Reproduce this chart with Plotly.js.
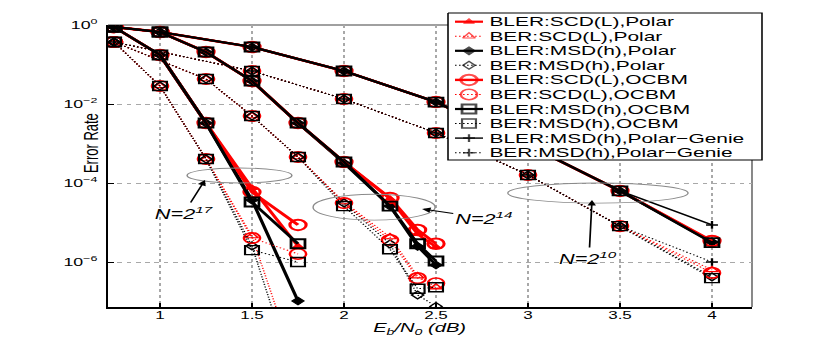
<!DOCTYPE html>
<html>
<head>
<meta charset="utf-8">
<script src="https://cdn.plot.ly/plotly-3.0.1.min.js"></script>
<style>
  html, body { margin: 0; padding: 0; background: #fff; overflow: hidden; }
  /* the source figure is a MATLAB export stretched sideways; reproduce that */
  #chart { width: 536px; height: 346px; transform: scaleX(1.5485); transform-origin: 0 0; }
</style>
</head>
<body>
<div id="chart"></div>
<script>
// ---- Eb/N0 grids (dB) ----
const ebn0N10Bler = [0.75, 1, 1.5, 2, 2.5, 3, 3.5, 4];
const ebn0N10Ber = [0.75, 1.5, 2, 2.5, 3, 3.5, 4];
const ebn0N14Bler = [0.75, 1, 1.25, 1.5, 1.75, 2, 2.25, 2.4, 2.5];
const ebn0N14Ber = [0.75, 1.25, 1.5, 1.75, 2, 2.25, 2.4, 2.5];
const ebn0N17 = [0.75, 1, 1.25, 1.5, 1.75];

// ---- N = 2^10 ----
const blerScdPolarN10 = [0.89, 0.665, 0.277, 0.0684, 0.0112, 9.1e-4, 6.3e-5, 3.3e-6];
const blerMsdPolarN10 = [0.89, 0.665, 0.277, 0.0684, 0.0112, 9.1e-4, 6.3e-5, 3.2e-6];
const blerScdOcbmN10 = [0.89, 0.665, 0.277, 0.0684, 0.0112, 9.1e-4, 6.3e-5, 3.4e-6];
const blerMsdOcbmN10 = [0.89, 0.665, 0.277, 0.0684, 0.0112, 9.1e-4, 6.3e-5, 3.1e-6];
const blerGenieN10 = [0.89, 0.665, 0.277, 0.0684, 0.0112, 9.1e-4, 6.3e-5, 8.7e-6];
const berScdPolarN10 = [0.371, 0.0684, 0.0134, 1.85e-3, 1.6e-4, 8.1e-6, 6.3e-7];
const berMsdPolarN10 = [0.371, 0.0684, 0.0134, 1.85e-3, 1.6e-4, 8.1e-6, 4.2e-7];
const berScdOcbmN10 = [0.371, 0.0684, 0.0134, 1.85e-3, 1.6e-4, 8.1e-6, 5.3e-7];
const berMsdOcbmN10 = [0.371, 0.0684, 0.0134, 1.85e-3, 1.6e-4, 8.1e-6, 3.9e-7];
const berGenieN10 = [0.371, 0.0684, 0.0134, 1.85e-3, 1.6e-4, 8.1e-6, 1.0e-6];

// ---- N = 2^14 ----
const blerScdPolarN14 = [0.89, 0.665, 0.207, 0.0382, 3.3e-3, 3.4e-4, 4.0e-5, 5.1e-6, 2.4e-6];
const blerMsdPolarN14 = [0.89, 0.665, 0.207, 0.0382, 3.3e-3, 3.2e-4, 2.6e-5, 2.5e-6, 8.4e-7];
const blerScdOcbmN14 = [0.89, 0.665, 0.207, 0.0382, 3.3e-3, 3.4e-4, 4.2e-5, 6.5e-6, 2.9e-6];
const blerMsdOcbmN14 = [0.89, 0.665, 0.207, 0.0382, 3.3e-3, 3.4e-4, 2.6e-5, 2.9e-6, 1.06e-6];
const berScdPolarN14 = [0.371, 0.043, 4.97e-3, 4.55e-4, 3.3e-5, 4.3e-6, 4.4e-7, 2.3e-7];
const berMsdPolarN14 = [0.371, 0.043, 4.97e-3, 4.55e-4, 3.1e-5, 2.86e-6, 1.46e-7, 7.5e-8];
const berScdOcbmN14 = [0.371, 0.043, 4.97e-3, 4.55e-4, 3.1e-5, 3.6e-6, 3.9e-7, 2.9e-7];
const berMsdOcbmN14 = [0.371, 0.043, 4.97e-3, 4.55e-4, 2.6e-5, 2.1e-6, 2.1e-7, 2.3e-7];

// ---- N = 2^17 ----
const blerScdPolarN17 = [0.89, 0.174, 3.3e-3, 7.5e-5, 2.5e-6];
const blerMsdPolarN17 = [0.89, 0.174, 3.3e-3, 3.7e-5, 1.03e-7];
const blerScdOcbmN17 = [0.89, 0.174, 3.3e-3, 5.9e-5, 8.7e-6];
const blerMsdOcbmN17 = [0.89, 0.174, 3.3e-3, 3.3e-5, 2.9e-6];
const berScdPolarN17 = [0.371, 0.0286, 4.05e-4, 4.55e-6, 1.6e-9];
const berMsdPolarN17 = [0.371, 0.0286, 4.05e-4, 2.54e-6, 6.3e-10];
const berScdOcbmN17 = [0.371, 0.0286, 4.05e-4, 4.05e-6, 1.6e-6];
const berMsdOcbmN17 = [0.371, 0.0286, 4.05e-4, 2.0e-6, 1.0e-6];

const xTicks = [1, 1.5, 2, 2.5, 3, 3.5, 4];
const yTicks = [1, 1e-2, 1e-4, 1e-6];
const yTickText = ['10<sup>0</sup>', '10<sup>\u22122</sup>', '10<sup>\u22124</sup>', '10<sup>\u22126</sup>'];

const RED = '#ff0000', BLACK = '#000000';
const FONT = 'Liberation Sans, Arial, sans-serif';
const DOTS = '1px,1.6px';

const SERIES = [
  { name: 'BLER:SCD(L),Polar', color: RED, dash: 'solid', width: 2.2, symbol: 'triangle-up', size: 6, mlw: 1,
    curves: [[ebn0N10Bler, blerScdPolarN10], [ebn0N14Bler, blerScdPolarN14], [ebn0N17, blerScdPolarN17]] },
  { name: 'BER:SCD(L),Polar', color: RED, dash: DOTS, width: 1, symbol: 'triangle-up-open', size: 7, mlw: 1.2,
    curves: [[ebn0N10Ber, berScdPolarN10], [ebn0N14Ber, berScdPolarN14], [ebn0N17, berScdPolarN17]] },
  { name: 'BLER:MSD(h),Polar', color: BLACK, dash: 'solid', width: 2.2, symbol: 'diamond', size: 6, mlw: 1,
    curves: [[ebn0N10Bler, blerMsdPolarN10], [ebn0N14Bler, blerMsdPolarN14], [ebn0N17, blerMsdPolarN17]] },
  { name: 'BER:MSD(h),Polar', color: BLACK, dash: DOTS, width: 1, symbol: 'diamond-open', size: 6, mlw: 1.2,
    curves: [[ebn0N10Ber, berMsdPolarN10], [ebn0N14Ber, berMsdPolarN14], [ebn0N17, berMsdPolarN17]] },
  { name: 'BLER:SCD(L),OCBM', color: RED, dash: 'solid', width: 2.4, symbol: 'circle-open', size: 10.5, mlw: 2,
    curves: [[ebn0N10Bler, blerScdOcbmN10], [ebn0N14Bler, blerScdOcbmN14], [ebn0N17, blerScdOcbmN17]] },
  { name: 'BER:SCD(L),OCBM', color: RED, dash: DOTS, width: 1, symbol: 'circle-open', size: 10.5, mlw: 1.6,
    curves: [[ebn0N10Ber, berScdOcbmN10], [ebn0N14Ber, berScdOcbmN14], [ebn0N17, berScdOcbmN17]] },
  { name: 'BLER:MSD(h),OCBM', color: BLACK, dash: 'solid', width: 2.2, symbol: 'square-open', size: 9, mlw: 1.8,
    curves: [[ebn0N10Bler, blerMsdOcbmN10], [ebn0N14Bler, blerMsdOcbmN14], [ebn0N17, blerMsdOcbmN17]] },
  { name: 'BER:MSD(h),OCBM', color: BLACK, dash: DOTS, width: 1, symbol: 'square-open', size: 9, mlw: 1.4,
    curves: [[ebn0N10Ber, berMsdOcbmN10], [ebn0N14Ber, berMsdOcbmN14], [ebn0N17, berMsdOcbmN17]] },
  { name: 'BLER:MSD(h),Polar\u2212Genie', color: BLACK, dash: 'solid', width: 1.4, symbol: 'cross-thin-open', size: 5.5, mlw: 1.5,
    curves: [[ebn0N10Bler, blerGenieN10]] },
  { name: 'BER:MSD(h),Polar\u2212Genie', color: BLACK, dash: DOTS, width: 1, symbol: 'cross-thin-open', size: 5.5, mlw: 1.5,
    curves: [[ebn0N10Ber, berGenieN10]] },
];

// geometry of the source picture, in its (stretched) pixels
const W = 830, H = 346;
const PLOT = { l: 108, r: 752, t: 25, b: 307 };
const LEG = { l: 448, r: 762, t: 13, b: 160, row0: 21.7, dy: 14.55, s0: 455, s1: 483, text: 487 };
const S = W / 536;                 // horizontal stretch, see the css
const px2dB = p => 1 + (p - 160) / 184;
const py2log = p => -(p - 25) / 39.5;

function markerOf(s) {
  return { symbol: s.symbol, size: s.size, color: s.color, line: { color: s.color, width: s.mlw } };
}

const traces = [];
SERIES.forEach(s => {
  s.curves.forEach(([x, y]) => {
    traces.push({
      x, y, type: 'scatter', mode: 'lines+markers', showlegend: false, hoverinfo: 'skip',
      line: { color: s.color, width: s.width, dash: s.dash },
      marker: markerOf(s),
    });
  });
});

// hand-made legend on its own little subplot, ranges in picture pixels
traces.push({
  x: [LEG.l, LEG.r, LEG.r, LEG.l, LEG.l], y: [LEG.t, LEG.t, LEG.b, LEG.b, LEG.t],
  xaxis: 'x2', yaxis: 'y2', type: 'scatter', mode: 'lines', fill: 'toself',
  fillcolor: '#ffffff', line: { color: BLACK, width: 1 }, showlegend: false, hoverinfo: 'skip',
});
const legendNotes = [];
SERIES.forEach((s, i) => {
  const yy = LEG.row0 + i * LEG.dy;
  traces.push({
    x: [LEG.s0, (LEG.s0 + LEG.s1) / 2, LEG.s1], y: [yy, yy, yy],
    xaxis: 'x2', yaxis: 'y2', type: 'scatter', mode: 'lines+markers', showlegend: false, hoverinfo: 'skip',
    line: { color: s.color, width: s.width, dash: s.dash },
    marker: { ...markerOf(s), size: [0, s.size, 0] },
  });
  legendNotes.push({
    xref: 'x2', yref: 'y2', x: LEG.text, y: yy, xanchor: 'left', yanchor: 'middle',
    text: s.name, showarrow: false, font: { family: FONT, size: 13.5, color: BLACK },
  });
});

// ellipse boxes: shapes on a log axis take plain data values
const ellipses = [
  { x0: 1.147, x1: 1.717, y0: 1.0e-4, y1: 2.4e-4 },
  { x0: 1.832, x1: 2.495, y0: 1.15e-5, y1: 5.2e-5 },
  { x0: 2.89, x1: 3.87, y0: 3.1e-5, y1: 1.0e-4 },
];
const sizeLabels = [
  { text: '<i>N=2<sup>17</sup></i>', head: [205, 180], at: [184, 213] },
  { text: '<i>N=2<sup>14</sup></i>', head: [422, 209], at: [485, 218] },
  { text: '<i>N=2<sup>10</sup></i>', head: [592, 200], at: [589, 258] },
];

const shapes = ellipses.map(e => ({
  type: 'circle', xref: 'x', yref: 'y', ...e, layer: 'above',
  line: { color: '#8a8a8a', width: 0.9 },
}));
// grey top/right frame like the MATLAB box
shapes.push(
  { type: 'line', xref: 'paper', yref: 'paper', layer: 'below', x0: PLOT.l / W, x1: PLOT.r / W,
    y0: 1 - PLOT.t / H, y1: 1 - PLOT.t / H, line: { color: '#808080', width: 1.4 } },
  { type: 'line', xref: 'paper', yref: 'paper', layer: 'below', x0: PLOT.r / W, x1: PLOT.r / W,
    y0: 1 - PLOT.b / H, y1: 1 - PLOT.t / H, line: { color: '#808080', width: 1.2 } },
);

const annotations = sizeLabels.map(a => ({
  xref: 'x', yref: 'y', x: px2dB(a.head[0]), y: py2log(a.head[1]),
  ax: (a.at[0] - a.head[0]) / S, ay: a.at[1] - a.head[1],
  text: a.text, showarrow: true, arrowhead: 2, arrowsize: 1, arrowwidth: 1.1, arrowcolor: BLACK,
  font: { family: FONT, size: 14, color: BLACK },
})).concat(legendNotes, [
  { xref: 'paper', yref: 'paper', x: 90 / W, y: 1 - 143 / H, textangle: -90, showarrow: false,
    xanchor: 'center', yanchor: 'middle',
    text: 'Error Rate', font: { family: FONT, size: 13, color: BLACK } },
  { xref: 'paper', yref: 'paper', x: 419 / W, y: 1 - 318 / H, showarrow: false,
    xanchor: 'center', yanchor: 'top',
    text: '<i>E<sub>b</sub>/N<sub>0</sub> (dB)</i>', font: { family: FONT, size: 13, color: BLACK } },
]);

const layout = {
  width: 536, height: 346,
  margin: { l: 0, r: 0, t: 0, b: 0 },
  paper_bgcolor: '#ffffff', plot_bgcolor: 'rgba(0,0,0,0)',
  font: { family: FONT, size: 11, color: BLACK },
  showlegend: false,
  xaxis: {
    domain: [PLOT.l / W, PLOT.r / W], range: [px2dB(PLOT.l), px2dB(PLOT.r)],
    tickvals: xTicks, ticks: 'inside', ticklen: 4, tickcolor: BLACK, tickfont: { size: 11 },
    ticklabelstandoff: -3,
    showline: true, linecolor: BLACK, linewidth: 1.5, zeroline: false,
    showgrid: true, gridcolor: '#a8a8a8', griddash: 'dot', gridwidth: 1,
  },
  yaxis: {
    type: 'log', domain: [1 - PLOT.b / H, 1 - PLOT.t / H], range: [py2log(PLOT.b), 0],
    tickvals: yTicks, ticktext: yTickText, ticks: 'inside', ticklen: 4, tickcolor: BLACK,
    tickfont: { size: 11.5 }, ticklabelstandoff: 3,
    showline: true, linecolor: BLACK, linewidth: 1.5, zeroline: false,
    showgrid: true, gridcolor: '#a8a8a8', griddash: 'dot', gridwidth: 1,
  },
  xaxis2: { domain: [(LEG.l - 1) / W, (LEG.r + 1) / W], range: [LEG.l - 1, LEG.r + 1],
    anchor: 'y2', visible: false, fixedrange: true },
  yaxis2: { domain: [1 - (LEG.b + 1) / H, 1 - (LEG.t - 1) / H], range: [LEG.b + 1, LEG.t - 1],
    anchor: 'x2', visible: false, fixedrange: true },
  shapes, annotations,
};

Plotly.newPlot('chart', traces, layout, { displayModeBar: false, staticPlot: true });
</script>
</body>
</html>
